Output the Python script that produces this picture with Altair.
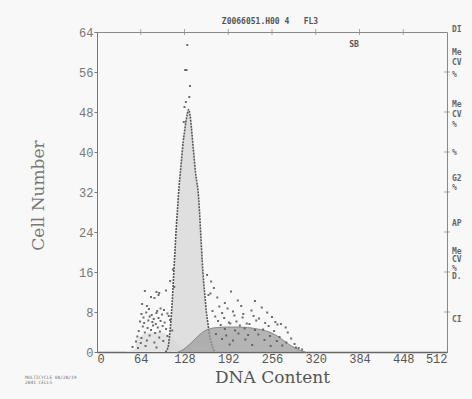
import altair as alt
import pandas as pd

# G1 peak (fitted model)
g1_x = [100,104,106,108,110,112,114,116,118,120,122,124,126,128,130,132,134,136,138,140,142,144,146,148,150,152,154,156,158,160,162,164,166,168,172]
g1_y = [0,1,3,6,10,15,20,25,29,33,36,39,42,44,46,47.5,48.5,47.5,45,42,39,36,34,32,28,23,18,14,11,8,6,4,2.5,1.5,0]

# S-phase (hatched)
s_x = [118,124,130,136,142,148,154,160,166,176,190,205,220,235,250,260,270,280,290,300,305]
s_y = [0,0.3,0.9,1.6,2.4,3.2,3.9,4.4,4.7,4.9,5.0,5.0,4.9,4.6,4.1,3.5,2.6,1.6,0.8,0.2,0]

# Debris (light)
d_x = [40,48,56,58,60,64,70,80,90,100,108,116,124,132]
d_y = [0,0.3,0.6,2.5,2.8,3.2,3.6,3.9,4.0,3.7,3.0,2.0,0.8,0]

# Raw histogram points
dot_x = [70,87,91,101,79,84,90,66,73,76,88,93,98,65,72,80,87,95,103,68,77,83,90,105,
         63,69,75,81,86,93,99,107,67,74,82,89,96,101,61,70,79,85,92,110,59,65,77,91,103,
         57,64,73,84,97,52,60,71,87,111,107,113,
         161,167,171,163,166,176,196,231,187,206,179,191,211,241,
         169,183,199,214,226,249,173,186,201,213,229,237,256,
         177,193,204,219,233,246,261,269,181,195,209,223,251,264,276,
         187,202,216,231,243,259,279,174,189,207,221,236,253,267,284,
         183,199,217,245,263,277,289,194,227,254,271,291,295,300,
         132,129,131,136,135,130,127,128]
dot_y = [12.2,12,11.8,12.3,11,10.8,11.4,9.6,9.2,8.6,8.2,8.7,8.4,7.6,7.9,7.4,7.8,7.5,7.7,6.9,7.1,6.6,6.8,7.2,
         6.1,5.8,6.3,6.0,5.6,6.2,5.9,6.4,5.1,4.8,5.3,4.9,5.2,4.6,4.2,3.9,4.4,3.8,4.1,4.3,3.1,2.8,3.3,2.9,3.2,
         2.1,1.8,2.3,1.9,2.2,1.0,0.8,1.2,0.9,16.5,14.2,13,
         15.4,14.1,12.8,11.4,11.7,10.9,12.1,10.2,9.8,10.3,9.1,8.7,9.2,8.9,
         8.2,7.8,8.1,7.6,8.3,7.9,7.1,6.8,7.3,6.9,7.2,6.7,7.0,
         6.2,5.9,6.1,5.7,6.3,5.8,6.0,5.6,5.4,5.7,5.3,5.6,5.2,5.5,4.9,
         4.6,4.3,4.7,4.4,4.5,4.2,3.9,3.6,3.3,3.7,3.4,3.5,3.2,3.0,2.7,
         2.6,2.3,2.5,2.4,2.2,1.9,1.6,1.5,1.4,1.2,1.3,0.9,0.8,0.5,
         61.4,56.4,56.4,53.2,51,50,46,49]

x_ticks = [0,64,128,192,256,320,384,448,512]
y_ticks = [0,8,16,24,32,40,48,56,64]
top_ticks = [64,128,192,256,320,384,448]
right_ticks = [8,16,24,32,40,48,56]

side_labels = ["DI","Me","CV","%","Me","CV","%","%","G2","%","AP","Me","CV","%","D.","CI"]
side_pos = [30,53,63,75,105,115,125,153,179,188,224,252,260,269,277,320]

g1 = pd.DataFrame({"x": g1_x, "y": g1_y})
sp = pd.DataFrame({"x": s_x, "y": s_y})
db = pd.DataFrame({"x": d_x, "y": d_y})
dots = pd.DataFrame({"x": dot_x, "y": dot_y})
tt = pd.DataFrame({"x": top_ticks})
rt = pd.DataFrame({"y": right_ticks})
side = pd.DataFrame({"t": side_labels, "py": [p - 32 for p in side_pos]})

xscale = alt.Scale(domain=[0, 512], nice=False, zero=False)
yscale = alt.Scale(domain=[0, 64], nice=False)
xaxis = alt.Axis(values=x_ticks, title="DNA Content", grid=False, labelFont="Liberation Mono",
                 labelFontSize=12, labelColor="#555", labelPadding=1, tickSize=0,
                 domainColor="#666", domainWidth=1.5, labelFlush=True,
                 titleFont="DejaVu Serif", titleFontSize=17, titleFontWeight="normal",
                 titleColor="#555", titlePadding=5)
yaxis = alt.Axis(values=y_ticks, title="Cell Number", grid=False, labelFont="Liberation Mono",
                 labelFontSize=12, labelColor="#777", labelPadding=1, tickSize=3,
                 tickColor="#777", domainColor="#777",
                 titleFont="DejaVu Serif", titleFontSize=17, titleFontWeight="normal",
                 titleColor="#777", titleX=-59, titleY=163, titleAngle=-90,
                 titleAlign="center", titleBaseline="middle")

X = alt.X("x:Q", scale=xscale, axis=xaxis)
Y = alt.Y("y:Q", scale=yscale, axis=yaxis)

debris = alt.Chart(db).mark_area(color="#e4e4e4", interpolate="monotone").encode(x=X, y=Y)
peak = alt.Chart(g1).mark_area(color="#d4d4d4", interpolate="monotone",
                               line={"color": "#555", "strokeDash": [2, 1], "strokeWidth": 1.6}).encode(x=X, y=Y)
sphase = alt.Chart(sp).mark_area(color="#9e9e9e", opacity=0.75, interpolate="monotone",
                                 line={"color": "#777", "strokeWidth": 0.8}).encode(x=X, y=Y)
pts = alt.Chart(dots).mark_square(size=4, color="#555", opacity=0.85).encode(x=X, y=Y)

top_t = alt.Chart(tt).mark_tick(orient="vertical", size=6, thickness=1, color="#888").encode(
    x=X, y=alt.value(0))
right_t = alt.Chart(rt).mark_tick(orient="horizontal", size=6, thickness=1, color="#888").encode(
    y=Y, x=alt.value(350))

title = alt.Chart(pd.DataFrame({"t": ["Z0066051.H00\u00a04\u00a0\u00a0\u00a0FL3"]})).mark_text(
    font="DejaVu Sans Mono", fontSize=8, fontWeight="bold", color="#555", align="center").encode(
    text="t:N", x=alt.value(173), y=alt.value(-10))
sb = alt.Chart(pd.DataFrame({"t": ["SB"]})).mark_text(
    font="DejaVu Sans Mono", fontSize=8, fontWeight="bold", color="#555", align="center").encode(
    text="t:N", x=alt.value(257), y=alt.value(13))
side_t = alt.Chart(side).mark_text(font="DejaVu Sans Mono", fontSize=8, fontWeight="bold",
                                   color="#666", align="left").encode(
    text="t:N", x=alt.value(355), y=alt.Y("py:Q", scale=None))
foot = alt.Chart(pd.DataFrame({"t": ["MULTICYCLE 08/28/19", "2841 CELLS"], "py": [346, 351]})).mark_text(
    font="DejaVu Sans Mono", fontSize=4.5, color="#777", align="left").encode(
    text="t:N", x=alt.value(-72), y=alt.Y("py:Q", scale=None))

chart = alt.layer(debris, peak, sphase, pts, top_t, right_t, title, sb, side_t, foot).properties(
    width=350, height=320,
    autosize=alt.AutoSizeParams(type="none"),
    padding={"left": 97, "top": 32, "right": 25, "bottom": 47},
    background="#f8f8f8"
).configure_view(stroke="#888", strokeWidth=1)

chart.save("out.html", embed_options={"renderer": "svg", "actions": False})
